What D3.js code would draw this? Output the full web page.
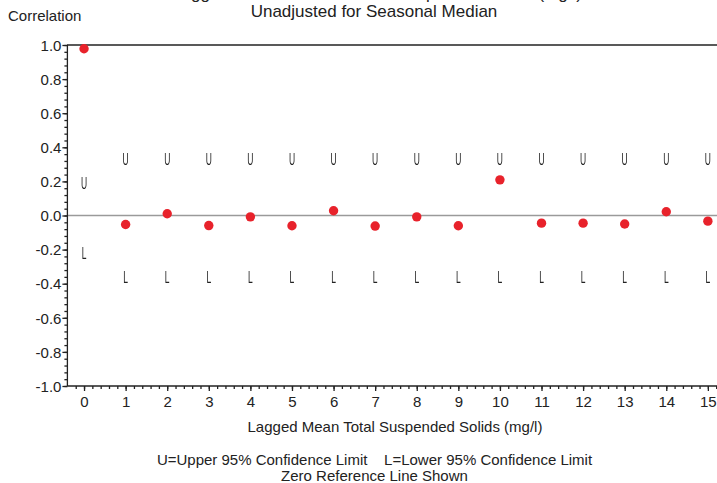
<!DOCTYPE html>
<html><head><meta charset="utf-8">
<script src="https://cdn.jsdelivr.net/npm/d3@7"></script>
<style>body{margin:0;background:#fff}svg{display:block}text{font-family:Arial,"Liberation Sans",sans-serif;fill:#222}</style>
</head><body><svg id="c" width="717" height="483"></svg>
<script>
const lags = [0,1,2,3,4,5,6,7,8,9,10,11,12,13,14,15];
const correlation = [0.978,-0.053,0.01,-0.059,-0.008,-0.06,0.028,-0.062,-0.008,-0.06,0.209,-0.045,-0.045,-0.05,0.022,-0.033];
const upper = [0.188,0.332,0.332,0.332,0.332,0.332,0.332,0.332,0.332,0.332,0.332,0.332,0.332,0.332,0.332,0.332];
const lower = [-0.219,-0.36,-0.36,-0.36,-0.36,-0.36,-0.36,-0.36,-0.36,-0.36,-0.36,-0.36,-0.36,-0.36,-0.36,-0.36];
const yTicks = [1.0,0.8,0.6,0.4,0.2,0.0,-0.2,-0.4,-0.6,-0.8,-1.0];
const xTicks = lags;
const titleLines = ["Lagged Seasonal Mean Total Suspended Solids (mg/l)","Unadjusted for Seasonal Median"];
const xLabel = "Lagged Mean Total Suspended Solids (mg/l)";
const yLabel = "Correlation";
const footnotes = ["U=Upper 95% Confidence Limit\u00a0\u00a0\u00a0\u00a0L=Lower 95% Confidence Limit","Zero Reference Line Shown"];

const svg = d3.select("#c");
svg.append("defs").append("filter").attr("id","gray")
  .append("feColorMatrix").attr("type","saturate").attr("values","0");
const x = d3.scaleLinear().domain([-0.4,15.4]).range([67.4,724.5]);
const y = d3.scaleLinear().domain([-1,1]).range([386,45]);
const fmtY = d => d3.format(".1f")(d).replace("\u2212","-");

// top frame line at 1.0
svg.append("line").attr("x1",67).attr("x2",717).attr("y1",y(1)).attr("y2",y(1)).attr("stroke","#222").attr("stroke-width",1.3);
// zero reference
svg.append("line").attr("x1",67).attr("x2",717).attr("y1",y(0)).attr("y2",y(0)).attr("stroke","#9a9a9a").attr("stroke-width",1.5);

// y axis
const yMinor = d3.range(-1,1.0001,0.04);
const yAx = svg.append("g").attr("transform","translate(67.4,0)");
yAx.append("g").call(d3.axisLeft(y).tickValues(yMinor).tickSize(3).tickFormat("")).call(g=>g.select(".domain").remove());
yAx.append("g").call(d3.axisLeft(y).tickValues(yTicks).tickSize(5).tickPadding(1).tickFormat(fmtY))
  .call(g=>g.selectAll("text").style("font-size","15px").attr("dy","0.35em").attr("fill","#222"))
  .call(g=>g.select(".domain").attr("d","M0,"+y(1)+"V"+y(-1)));
yAx.selectAll("line,path").attr("stroke","#222").attr("stroke-width",1.3);

// x axis
const xMinor = d3.range(-0.2,15.30,0.2);
const xAx = svg.append("g").attr("transform","translate(0,386)");
xAx.append("g").call(d3.axisBottom(x).tickValues(xMinor).tickSize(3).tickFormat("")).call(g=>g.select(".domain").remove());
xAx.append("g").call(d3.axisBottom(x).tickValues(xTicks).tickSize(5).tickPadding(5).tickFormat(d3.format("d")))
  .call(g=>g.selectAll("text").style("font-size","15px").attr("fill","#222"))
  .call(g=>g.select(".domain").attr("d","M67.4,0H717"));
xAx.selectAll("line,path").attr("stroke","#222").attr("stroke-width",1.3);

// confidence limit symbols
const sym = (arr, ch) => svg.append("g").attr("filter","url(#gray)").selectAll("text").data(lags).join("text")
  .attr("transform",(d,i)=>"translate("+x(d)+","+(y(arr[i])+6)+") scale(0.5,1)")
  .attr("text-anchor","middle").style("font-size","17px").attr("fill","#333").text(ch);
sym(upper,"U");
sym(lower,"L");

// points
svg.append("g").selectAll("circle").data(lags).join("circle")
  .attr("cx",d=>x(d)).attr("cy",(d,i)=>y(correlation[i])).attr("r",4.7).attr("fill","#e8222b");

// texts
svg.append("text").attr("x",377).attr("y",-1).attr("text-anchor","middle").style("font-size","17px").text(titleLines[0]);
svg.append("text").attr("x",374).attr("y",17).attr("text-anchor","middle").style("font-size","17px").text(titleLines[1]);
svg.append("text").attr("x",8).attr("y",21).style("font-size","15px").text(yLabel);
svg.append("text").attr("x",395).attr("y",432).attr("text-anchor","middle").style("font-size","15px").text(xLabel);
svg.append("text").attr("x",374.5).attr("y",465).attr("text-anchor","middle").style("font-size","15px").text(footnotes[0]);
svg.append("text").attr("x",374.5).attr("y",481).attr("text-anchor","middle").style("font-size","15px").text(footnotes[1]);
</script></body></html>
